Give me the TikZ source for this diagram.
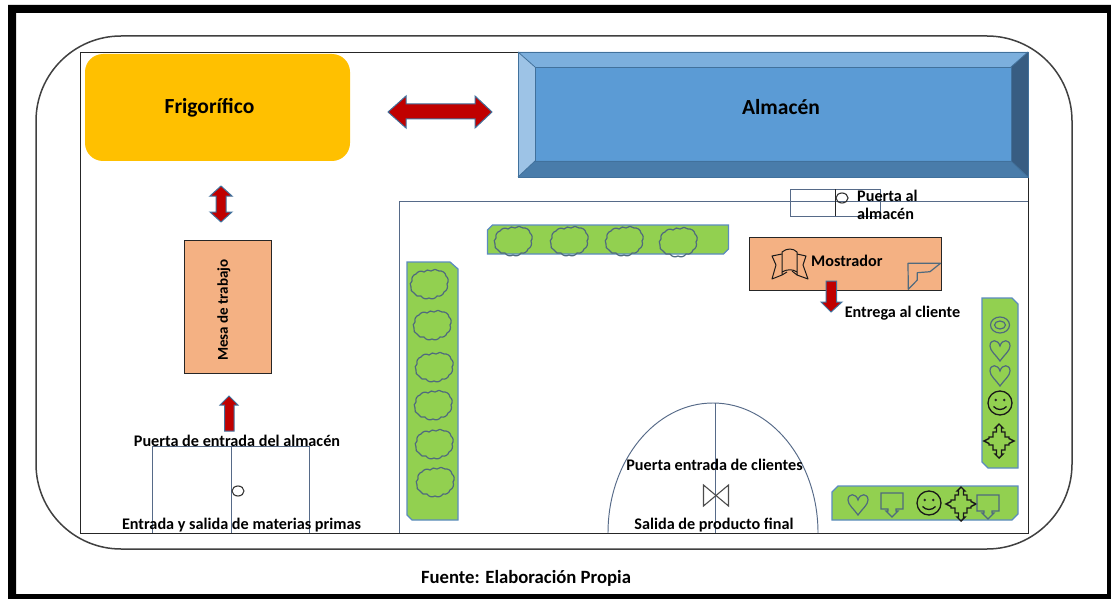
\documentclass[tikz,border=0pt]{standalone}
\usepackage{fontspec}
\setmainfont{Carlito}
\definecolor{arrowred}{HTML}{C00000}
\definecolor{arrowedge}{HTML}{41719C}
\definecolor{greenfill}{HTML}{92D050}
\definecolor{greenedge}{HTML}{5B8BC0}
\definecolor{doorline}{HTML}{566A88}
\definecolor{iconline}{HTML}{4F6A7E}
\definecolor{salmon}{HTML}{F4B183}
\tikzset{
  x=1pt,y=-1pt,
  lbl/.style={font=\bfseries\fontsize{16.2}{18}\selectfont,text=black,inner sep=0pt},
  bigl/.style={font=\bfseries\fontsize{21.5}{23}\selectfont,text=black,inner sep=0pt},
  redarrow/.style={fill=arrowred,draw=arrowedge,line width=1pt,line join=miter},
  greenbar/.style={fill=greenfill,draw=greenedge,line width=1.3pt},
  door/.style={draw=doorline,line width=.95pt},
  icon/.style={draw=iconline,line width=1.2pt},
  darkicon/.style={draw=black!90,line width=1.3pt},
}
\newcommand{\bushat}[2]{\draw[icon,shift={(#1,#2)},line join=round] (-17,-3) to[bend left=45] (-13,-10) to[bend left=45] (-5,-12) to[bend left=45] (2,-13) to[bend left=45] (10,-13) to[bend left=45] (17,-8) to[bend left=45] (18,0) to[bend left=45] (15,8) to[bend left=45] (8,12) to[bend left=45] (0,14) to[bend left=45] (-8,12) to[bend left=45] (-15,9) to[bend left=45] (-18,3) to[bend left=45] cycle;}
\newcommand{\heartat}[2]{\draw[icon,shift={(#1,#2)}] (0,10) .. controls (-4,4) and (-10,0) .. (-10,-5) .. controls (-10,-12) and (-2,-12) .. (0,-5) .. controls (2,-12) and (10,-12) .. (10,-5) .. controls (10,0) and (4,4) .. (0,10) -- cycle;}
\newcommand{\smileat}[2]{\begin{scope}[shift={(#1,#2)}]
  \draw[darkicon] (0,0) circle[radius=12];
  \fill[black!85] (-4.2,-3) circle[radius=1.4] (4.2,-3) circle[radius=1.4];
  \draw[darkicon] (-6.5,3.5) .. controls (-3,7.5) and (3,7.5) .. (6.5,3.5);
\end{scope}}
\newcommand{\crossat}[2]{\draw[darkicon,line width=1.4pt,shift={(#1,#2)}] (0,-17) -- (4,-13) -- (2.5,-13) -- (2.5,-9) -- (6,-9) -- (6,-4) -- (10,-4) -- (10,-2.5) -- (15,0) -- (10,2.5) -- (10,4) -- (6,4) -- (6,9) -- (2.5,9) -- (2.5,13) -- (4,13) -- (0,17) -- (-4,13) -- (-2.5,13) -- (-2.5,9) -- (-6,9) -- (-6,4) -- (-10,4) -- (-10,2.5) -- (-15,0) -- (-10,-2.5) -- (-10,-4) -- (-6,-4) -- (-6,-9) -- (-2.5,-9) -- (-2.5,-13) -- (-4,-13) -- cycle;}
\newcommand{\calloutat}[2]{\draw[icon,shift={(#1,#2)},line join=miter] (-11,-10) -- (11,-10) -- (11,6) -- (4,6) -- (4,8) -- (6,8) -- (0,14) -- (-6,8) -- (-4,8) -- (-4,6) -- (-11,6) -- cycle;}
\begin{document}
\begin{tikzpicture}
\useasboundingbox (0,0) rectangle (1111,599);
\fill[white] (0,0) rectangle (1111,599);
% black frame
\fill[black,even odd rule] (8,5) rectangle (1111,599) (16,13) rectangle (1107,594);
% rounded outer outline
\draw[draw=black!75,line width=1.5pt,rounded corners=85pt] (36,36) rectangle (1072,549);
% room
\draw[black!85,line width=.95pt] (80,533) -- (80,52) -- (518,52);
\draw[black!85,line width=.95pt] (1028,177) -- (1028,533) -- (80,533);
\draw[doorline,line width=.95pt] (399,533) -- (399,201) -- (1028,201);
% frigorifico
\node[fill={rgb,255:red,255;green,192;blue,0},rounded corners=18pt,minimum width=265pt,minimum height=107pt,inner sep=0pt] (frig) at (217.5,107.5) {};
\node[bigl] (frigt) at (209.5,108) {Frigorífico};
% almacen
\fill[fill={rgb,255:red,91;green,155;blue,213}] (535,67) rectangle (1011,161);
\fill[fill={rgb,255:red,124;green,175;blue,221}] (518,52) -- (1028,52) -- (1011,67) -- (535,67) -- cycle;
\fill[fill={rgb,255:red,157;green,195;blue,230}] (518,52) -- (535,67) -- (535,161) -- (518,177) -- cycle;
\fill[fill={rgb,255:red,73;green,124;blue,170}] (518,177) -- (535,161) -- (1011,161) -- (1028,177) -- cycle;
\fill[fill={rgb,255:red,56;green,93;blue,130}] (1028,52) -- (1028,177) -- (1011,161) -- (1011,67) -- cycle;
\draw[draw={rgb,255:red,65;green,113;blue,156},line width=.8pt] (518,52) rectangle (1028,177) (535,67) rectangle (1011,161);
\draw[draw={rgb,255:red,65;green,113;blue,156},line width=.8pt] (518,52) -- (535,67) (1028,52) -- (1011,67) (518,177) -- (535,161) (1028,177) -- (1011,161);
\node[bigl] (alm) at (781,107) {Almacén};
% double arrows
\draw[redarrow] (388,112) -- (406,96) -- (406,104) -- (475,104) -- (475,96) -- (492,112) -- (475,128) -- (475,119) -- (406,119) -- (406,128) -- cycle;
\draw[redarrow] (221,186) -- (232,196) -- (226,196) -- (226,212) -- (232,212) -- (221,222) -- (210,212) -- (216,212) -- (216,196) -- (210,196) -- cycle;
% mesa
\node[fill=salmon,draw=black!85,line width=.95pt,minimum width=87pt,minimum height=133pt,inner sep=0pt] (mesa) at (227.5,306.5) {};
\node[lbl,font=\bfseries\fontsize{15}{17}\selectfont,rotate=90] (mesat) at (224,310) {Mesa de trabajo};
% up arrow
\draw[redarrow] (229,396) -- (238,405) -- (234,405) -- (234,431) -- (224.5,431) -- (224.5,405) -- (220,405) -- cycle;
% left door
\draw[door] (152,533) -- (152,446) -- (309,446) -- (309,533) (231,446) -- (231,533);
\draw[black!80,line width=1.1pt] (238,491) ellipse[x radius=6,y radius=5];
\node[lbl] (t1) at (237,440.5) {Puerta de entrada del almacén};
\node[lbl] (t2) at (241.5,525) {Entrada y salida de materias primas};
% arch
\draw[door] (608,533) arc[start angle=180,end angle=0,x radius=105,y radius=-130];
\draw[door] (715,403) -- (715,533);
\draw[black!70,line width=1.1pt] (703.5,485) -- (728.5,506) -- (728.5,485) -- (703.5,506) -- cycle;
\node[lbl] (t3) at (714.5,464.5) {Puerta entrada de clientes};
\node[lbl] (t4) at (714,525) {Salida de producto final};
% door to warehouse
\draw[door] (790,189) rectangle (880,216);
\draw[black!85,line width=.95pt] (835,189) -- (835,216);
\draw[black!80,line width=1.1pt] (842,198) ellipse[x radius=6,y radius=5];
\node[lbl,anchor=west] (t5) at (857,196) {Puerta al};
\node[lbl,anchor=west] (t6) at (857,214) {almacén};
% mostrador
\node[fill=salmon,draw=black!85,line width=.95pt,minimum width=192pt,minimum height=53pt,inner sep=0pt] (most) at (845,263.5) {};
\node[lbl,anchor=west] (t7) at (811,261) {Mostrador};
% ribbon
\draw[darkicon,line width=1pt,line join=round] (782,252) .. controls (787,248) and (793,248) .. (797,252) -- (797,272) .. controls (793,269) and (787,269) .. (782,272) -- cycle;
\draw[darkicon,line width=1pt,line join=round] (782,254) -- (772,256) -- (776,265) -- (772,279) -- (782,275) -- (782,272) (782,275) -- (787,272) (797,254) -- (806,256) -- (803,265) -- (808,279) -- (797,275) -- (797,272) (797,275) -- (792,271);
% folded corner
\draw[icon,line join=round] (908,263.3) -- (940.5,263.3) -- (930,271.7) -- (917.3,272.7) -- (917.3,280) -- (908.3,289.3) -- cycle;
% down arrow
\draw[redarrow] (826,281) -- (836.5,281) -- (836.5,302) -- (842,302) -- (831,312) -- (821,302) -- (826,302) -- cycle;
\node[lbl] (t8) at (902.5,313) {Entrega al cliente};
% green bars
\draw[greenbar] (487.5,230) -- (492.5,225) -- (728.5,225) -- (728.5,249) -- (723.5,254) -- (487.5,254) -- cycle;
\draw[greenbar] (407,262) -- (450,262) -- (458,269) -- (458,520) -- (412,520) -- (407,515) -- cycle;
\draw[greenbar] (982,298) -- (1012,298) -- (1018,304) -- (1018,468) -- (988,468) -- (982,462) -- cycle;
\draw[greenbar] (832,492) -- (838,486) -- (1018,486) -- (1018,514) -- (1012,520) -- (832,520) -- cycle;
% bushes
\bushat{513}{241}
\bushat{569}{241}
\bushat{624}{241}
\bushat{678}{242}
\bushat{429}{284}
\bushat{432}{325}
\bushat{434}{367}
\bushat{433}{405}
\bushat{434}{444}
\bushat{435}{482}
% right bar icons
\draw[icon] (1000,325) ellipse[x radius=9.5,y radius=8];
\draw[icon] (1000,325) ellipse[x radius=5.5,y radius=4];
\heartat{1000}{351}
\heartat{1000}{376}
\smileat{1000}{403}
\crossat{999}{441}
% bottom bar icons
\heartat{858}{505}
\calloutat{892}{503}
\smileat{929}{503}
\crossat{961}{504}
\calloutat{988}{505}
% caption
\node[font=\bfseries\fontsize{18.7}{20}\selectfont,text=black,inner sep=0pt] (cap) at (526,578) {Fuente: Elaboración Propia};
\end{tikzpicture}
\end{document}
